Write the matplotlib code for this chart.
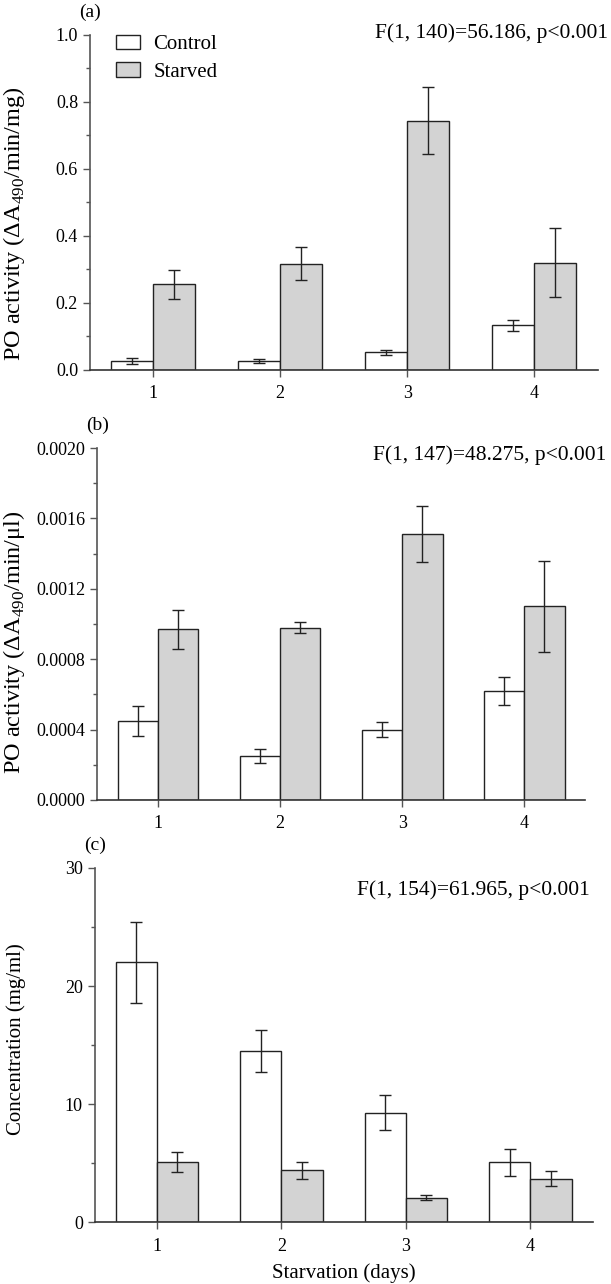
import matplotlib
matplotlib.use("Agg")
import matplotlib.pyplot as plt
from matplotlib.ticker import MultipleLocator, FormatStrFormatter
import numpy as np

plt.rcParams['font.family'] = ['Liberation Serif', 'DejaVu Serif']
plt.rcParams['mathtext.fontset'] = 'custom'
plt.rcParams['mathtext.rm'] = 'Liberation Serif'

days = [1, 2, 3, 4]

# panel (a) PO activity per mg protein
a_control = [0.027, 0.027, 0.052, 0.133]
a_control_err = [0.009, 0.006, 0.008, 0.017]
a_starved = [0.255, 0.316, 0.743, 0.320]
a_starved_err = [0.043, 0.049, 0.100, 0.103]

# panel (b) PO activity per ul haemolymph
b_control = [0.00045, 0.00025, 0.00040, 0.00062]
b_control_err = [0.000085, 0.00004, 0.000045, 0.00008]
b_starved = [0.00097, 0.00098, 0.00151, 0.00110]
b_starved_err = [0.00011, 0.00003, 0.00016, 0.00026]

# panel (c) protein concentration
c_control = [22.0, 14.5, 9.3, 5.1]
c_control_err = [3.45, 1.75, 1.45, 1.15]
c_starved = [5.1, 4.4, 2.1, 3.7]
c_starved_err = [0.85, 0.72, 0.22, 0.62]

stats = ["F(1, 140)=56.186, p<0.001",
         "F(1, 147)=48.275, p<0.001",
         "F(1, 154)=61.965, p<0.001"]

fig = plt.figure(figsize=(6.11, 12.84), dpi=100)

# axes boxes (left, bottom, width, height) in figure fraction
boxes = [(0.147, 0.712, 0.831, 0.261),
         (0.159, 0.377, 0.799, 0.274),
         (0.155, 0.048, 0.815, 0.276)]
# ylabel right edge (x) / centre (y) in axes fraction
label_pos = [(-0.124, 0.436), (-0.144, 0.449), (-0.137, 0.518)]
# stats text right edge / centre in figure fraction
stat_pos = [(0.995, 1 - 33 / 1284), (0.993, 1 - 455 / 1284),
            (0.966, 1 - 890 / 1284)]

panels = [
    (a_control, a_control_err, a_starved, a_starved_err, 1.0, 0.2, '%.1f',
     'PO activity (ΔA$_{\\mathregular{490}}$/min/mg)', '(a)', 17.5),
    (b_control, b_control_err, b_starved, b_starved_err, 0.002, 0.0004, '%.4f',
     'PO activity (ΔA$_{\\mathregular{490}}$/min/μl)', '(b)', 17.5),
    (c_control, c_control_err, c_starved, c_starved_err, 30, 10, '%d',
     'Concentration (mg/ml)', '(c)', 15),
]

w = 0.33
x = np.array(days)
edge = '#222222'
spine_col = '#555555'

for i, (ctl, ctl_e, stv, stv_e, ymax, step, fmt, ylab, tag, lsize) in enumerate(panels):
    ax = fig.add_axes(boxes[i])
    ax.bar(x - w / 2, ctl, w, color='white', edgecolor=edge, linewidth=1.0,
           label='Control')
    ax.bar(x + w / 2, stv, w, color='#d3d3d3', edgecolor=edge, linewidth=1.0,
           label='Starved')
    ax.errorbar(x - w / 2, ctl, yerr=ctl_e, fmt='none', ecolor=edge,
                elinewidth=1.0, capsize=4, capthick=1.0)
    ax.errorbar(x + w / 2, stv, yerr=stv_e, fmt='none', ecolor=edge,
                elinewidth=1.0, capsize=4, capthick=1.0)

    ax.set_xlim(0.5, 4.5)
    ax.set_ylim(0, ymax)
    ax.set_xticks(days)
    ax.yaxis.set_major_locator(MultipleLocator(step))
    ax.yaxis.set_minor_locator(MultipleLocator(step / 2))
    ax.yaxis.set_major_formatter(FormatStrFormatter(fmt))
    ax.tick_params(axis='both', which='major', labelsize=13, length=5,
                   width=1.0, color=spine_col, direction='out')
    ax.tick_params(axis='y', which='minor', length=3, width=1.0,
                   color=spine_col)
    ax.tick_params(axis='x', pad=6)

    for s in ['top', 'right']:
        ax.spines[s].set_visible(False)
    ax.spines['left'].set_color(spine_col)
    ax.spines['bottom'].set_color('#333333')
    ax.spines['left'].set_linewidth(1.2)
    ax.spines['bottom'].set_linewidth(1.2)

    ax.set_ylabel(ylab, fontsize=lsize)
    ax.yaxis.set_label_coords(*label_pos[i])

    fig.text(stat_pos[i][0], stat_pos[i][1], stats[i], ha='right',
             va='center', fontsize=15.5)
    ax.text(0.0, 1.04, tag, transform=ax.transAxes, ha='center',
            va='bottom', fontsize=14)

    if i == 0:
        ax.legend(loc='upper left', bbox_to_anchor=(0.051, 1.0), frameon=False,
                  fontsize=15, handlelength=1.15, handleheight=0.67,
                  labelspacing=0.4, handletextpad=0.65, borderpad=0,
                  borderaxespad=0)
    if i == 2:
        ax.set_xlabel('Starvation (days)', fontsize=15, labelpad=6)

fig.savefig('out.png', dpi=100)
